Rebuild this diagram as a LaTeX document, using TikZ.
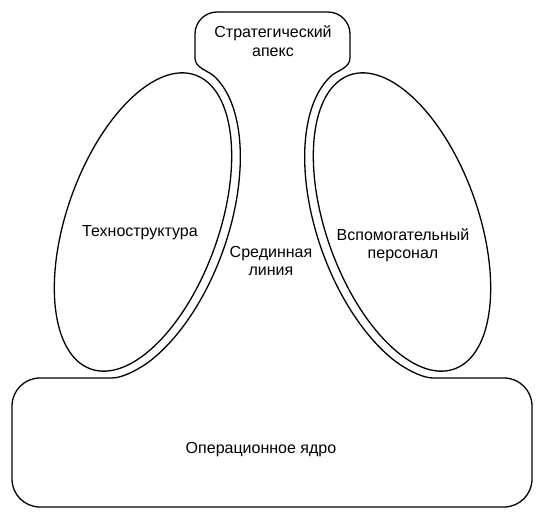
\documentclass[tikz,border=0pt]{standalone}
\usepackage{fontspec}
\setmainfont{Liberation Sans}

\begin{document}
\begin{tikzpicture}[x=1pt, y=-1pt, line width=1.3pt,
    areatext/.style={align=center, font=\fontsize{16}{18.5}\selectfont, inner sep=0pt},
    declare function={ox(\t)=85*cos(\t)*0.942+165*sin(\t)*0.3355;
                      oy(\t)=85*cos(\t)*0.3355-165*sin(\t)*0.942;}]
    \useasboundingbox (0,0) rectangle (542,517);
    % outline: operating core, middle line and strategic apex
    \draw (112,378) -- (40,378) .. controls (24.5,378) and (12,390.5) .. (12,406)
        -- (12,479) .. controls (12,494.5) and (24.5,507) .. (40,507)
        -- (504,507) .. controls (519.5,507) and (532,494.5) .. (532,479)
        -- (532,406) .. controls (532,390.5) and (519.5,378) .. (504,378)
        -- (433,378) .. controls (421,378) and (402.2,366.9) .. (392.9,359.4)
        -- plot[domain=-50:78, samples=60] ({402-ox(\x)},{222+oy(\x)})
        .. controls (337.2,70.5) and (350,68) .. (350,58)
        -- (350,34) .. controls (350,21.9) and (340.1,12) .. (328,12)
        -- (217,12) .. controls (204.9,12) and (195,21.9) .. (195,34)
        -- (195,58) .. controls (195,68) and (207.8,70.5) .. (213.7,75.9)
        -- plot[domain=78:-50, samples=60] ({143+ox(\x)},{222+oy(\x)})
        .. controls (142.8,366.9) and (124,378) .. (112,378) -- cycle;
    % technostructure and support staff
    \draw[rotate around={-19.6:(143,222)}] (143,222) ellipse [x radius=76, y radius=156];
    \draw[rotate around={19.6:(402,222)}] (402,222) ellipse [x radius=76, y radius=156];
    \node[areatext] (apex) at (273,41) {Стратегический\\апекс};
    \node[areatext] (techno) at (140,233) {Техноструктура};
    \node[areatext] (middle) at (271,261) {Срединная\\линия};
    \node[areatext] (support) at (403,245) {Вспомогательный\\персонал};
    \node[areatext] (core) at (261,450) {Операционное ядро};
\end{tikzpicture}
\end{document}
